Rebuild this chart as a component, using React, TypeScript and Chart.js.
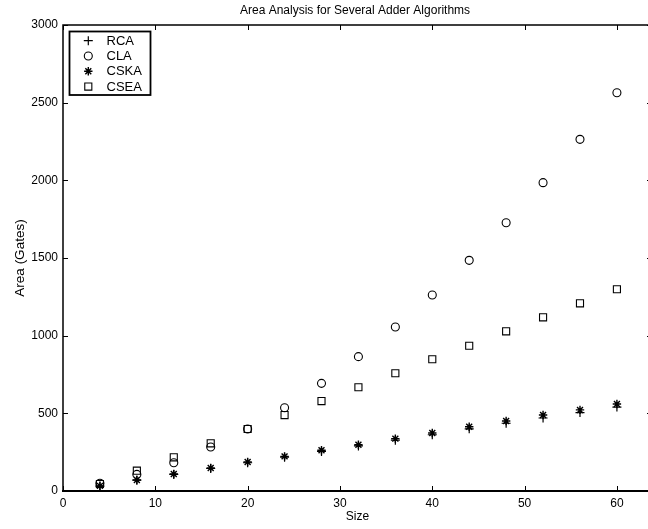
import React, { useEffect, useRef } from "react";
import { Chart, registerables } from "chart.js";

Chart.register(...registerables);

const sizes = [4, 8, 12, 16, 20, 24, 28, 32, 36, 40, 44, 48, 52, 56, 60];
const rca = [32, 70, 107, 145, 182, 218, 255, 290, 327, 362, 400, 436, 470, 505, 540];
const cla = [50, 107, 182, 283, 399, 536, 693, 865, 1056, 1262, 1485, 1727, 1985, 2264, 2564];
const cska = [33, 71, 109, 148, 187, 223, 262, 298, 337, 373, 414, 451, 489, 522, 560];
const csea = [45, 131, 217, 307, 399, 489, 579, 668, 758, 848, 935, 1028, 1118, 1208, 1299];

const seriesNames = ["RCA", "CLA", "CSKA", "CSEA"];
const titleText = "Area Analysis for Several Adder Algorithms";
const xTitle = "Size";
const yTitle = "Area (Gates)";

const FONT = "'Liberation Sans', Arial, Helvetica, sans-serif";

const toPoints = (ys: number[]) => ys.map((y, i) => ({ x: sizes[i], y }));

function drawMarker(ctx: CanvasRenderingContext2D, style: string, r: number, x: number, y: number) {
  ctx.beginPath();
  if (style === "cross") {
    ctx.moveTo(x - r, y);
    ctx.lineTo(x + r, y);
    ctx.moveTo(x, y - r);
    ctx.lineTo(x, y + r);
  } else if (style === "circle") {
    ctx.arc(x, y, r, 0, Math.PI * 2);
  } else if (style === "star") {
    ctx.moveTo(x - r, y);
    ctx.lineTo(x + r, y);
    ctx.moveTo(x, y - r);
    ctx.lineTo(x, y + r);
    const d = r * Math.SQRT1_2;
    ctx.moveTo(x - d, y - d);
    ctx.lineTo(x + d, y + d);
    ctx.moveTo(x - d, y + d);
    ctx.lineTo(x + d, y - d);
  } else if (style === "rect") {
    const s = r * Math.SQRT1_2;
    ctx.rect(x - s, y - s, 2 * s, 2 * s);
  }
  ctx.stroke();
}

const boxPlugin = {
  id: "matlabBox",
  afterDraw(chart: any) {
    const { ctx, chartArea } = chart;
    const { left, right, top, bottom } = chartArea;
    const xs = chart.scales.x;
    const ys = chart.scales.y;
    ctx.save();
    ctx.strokeStyle = "#000";
    // frame
    ctx.lineWidth = 1.5;
    ctx.beginPath();
    ctx.moveTo(left, bottom);
    ctx.lineTo(left, top);
    ctx.lineTo(right, top);
    ctx.lineTo(right, bottom);
    ctx.stroke();
    ctx.lineWidth = 2;
    ctx.beginPath();
    ctx.moveTo(left - 1, bottom);
    ctx.lineTo(right + 1, bottom);
    ctx.stroke();
    // inward ticks
    ctx.lineWidth = 1;
    const tl = 5;
    xs.ticks.forEach((t: any) => {
      const px = Math.round(xs.getPixelForValue(t.value)) + 0.5;
      ctx.beginPath();
      ctx.moveTo(px, bottom);
      ctx.lineTo(px, bottom - tl);
      ctx.moveTo(px, top);
      ctx.lineTo(px, top + tl);
      ctx.stroke();
    });
    ys.ticks.forEach((t: any) => {
      const py = Math.round(ys.getPixelForValue(t.value)) + 0.5;
      ctx.beginPath();
      ctx.moveTo(left, py);
      ctx.lineTo(left + tl, py);
      ctx.moveTo(right, py);
      ctx.lineTo(right - tl, py);
      ctx.stroke();
    });
    // title
    ctx.fillStyle = "#000";
    ctx.font = `12px ${FONT}`;
    ctx.textAlign = "center";
    ctx.textBaseline = "middle";
    ctx.fillText(titleText, 355, 10.5);
    // legend
    const bx = 69.5, by = 31.5, bw = 81, bh = 63.5;
    ctx.fillStyle = "#fff";
    ctx.fillRect(bx, by, bw, bh);
    ctx.lineWidth = 1.8;
    ctx.strokeRect(bx, by, bw, bh);
    ctx.font = `13px ${FONT}`;
    ctx.textBaseline = "middle";
    ctx.textAlign = "left";
    ctx.fillStyle = "#000";
    chart.data.datasets.forEach((ds: any, i: number) => {
      const yy = 40.7 + i * 15.3;
      ctx.lineWidth = ds.pointBorderWidth;
      ctx.strokeStyle = "#000";
      drawMarker(ctx, ds.pointStyle, ds.pointRadius, 88.3, yy);
      ctx.fillText(ds.label, 106.5, yy + 0.5);
    });
    ctx.restore();
  },
};

export default function App() {
  const ref = useRef<HTMLCanvasElement>(null);

  useEffect(() => {
    if (!ref.current) return;
    const mk = (label: string, data: number[], style: string, r: number, w: number) => ({
      label,
      data: toPoints(data),
      pointStyle: style,
      pointRadius: r,
      pointBorderColor: "#000",
      borderColor: "#000",
      pointBackgroundColor: "rgba(0,0,0,0)",
      backgroundColor: "rgba(0,0,0,0)",
      pointBorderWidth: w,
      showLine: false,
    });
    const chart = new Chart(ref.current, {
      type: "scatter",
      data: {
        datasets: [
          mk(seriesNames[0], rca, "cross", 4.5, 1.2),
          mk(seriesNames[1], cla, "circle", 4, 1.1),
          mk(seriesNames[2], cska, "star", 4.2, 1.4),
          mk(seriesNames[3], csea, "rect", 5, 1.1),
        ],
      },
      options: {
        animation: false,
        responsive: false,
        devicePixelRatio: 1,
        layout: { padding: { top: 25, left: 0, right: 8, bottom: 0 } },
        plugins: {
          legend: { display: false },
          tooltip: { enabled: false },
          title: { display: false },
        },
        scales: {
          x: {
            type: "linear",
            min: 0,
            max: 63.8,
            grid: { display: false, drawTicks: false },
            border: { display: false },
            ticks: {
              stepSize: 10,
              includeBounds: false,
              padding: 5,
              color: "#000",
              font: { family: FONT, size: 12 },
              maxRotation: 0,
            },
            title: {
              display: true,
              text: xTitle,
              color: "#000",
              font: { family: FONT, size: 12 },
              padding: { top: 0, bottom: 5 },
            },
            afterFit: (s: any) => {
              s.height = 38;
            },
          },
          y: {
            type: "linear",
            min: 0,
            max: 3000,
            grid: { display: false, drawTicks: false },
            border: { display: false },
            ticks: {
              stepSize: 500,
              padding: 5,
              color: "#000",
              font: { family: FONT, size: 12 },
              callback: (v: any) => String(v),
            },
            title: {
              display: true,
              text: yTitle,
              color: "#000",
              font: { family: FONT, size: 13.5 },
              padding: { top: 12.5, bottom: 0 },
            },
            afterFit: (s: any) => {
              s.width = 63;
            },
          },
        },
      },
      plugins: [boxPlugin],
    } as any);
    return () => chart.destroy();
  }, []);

  return (
    <div
      style={{
        position: "fixed",
        left: 0,
        top: 0,
        width: 648,
        height: 529,
        overflow: "hidden",
        background: "#fff",
      }}
    >
      <canvas ref={ref} width={660} height={529} style={{ display: "block" }} />
    </div>
  );
}
